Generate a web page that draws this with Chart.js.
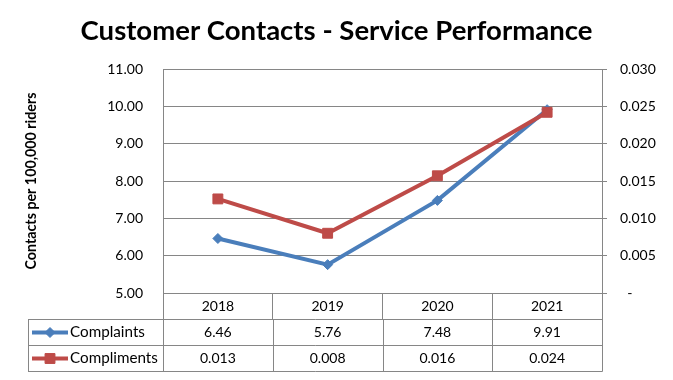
<!DOCTYPE html>
<html><head><meta charset="utf-8">
<script src="https://cdn.jsdelivr.net/npm/chart.js@4/dist/chart.umd.min.js"></script>
<style>html,body{margin:0;padding:0;background:#fff;}</style>
</head><body>
<canvas id="c" width="673" height="380" style="width:673px;height:380px;display:block"></canvas>
<script>
// ---- data ----
const categories = ['2018', '2019', '2020', '2021'];
const complaints = [6.46, 5.76, 7.48, 9.91];
const compliments = [0.0126, 0.0080, 0.0157, 0.0242];
const seriesNames = ['Complaints', 'Compliments'];
const leftTickMin = 5, leftTickMax = 11, leftTickStep = 1;
const rightTickMin = 0, rightTickMax = 0.03, rightTickStep = 0.005;
const titleText = 'Customer Contacts - Service Performance';
const yTitleText = 'Contacts per 100,000 riders';

// ---- style ----
const FONT = 'Lato';
const GRID = '#868686';
const BLUE = '#4A7EBB';
const RED = '#BE4B48';

function fitSize(text, weight, targetW, base) {
  const c = document.createElement('canvas').getContext('2d');
  c.font = weight + ' ' + base + 'px ' + FONT;
  return base * targetW / c.measureText(text).width;
}
const titleSize = fitSize(titleText, 'bold', 512, 27);
const yTitleSize = fitSize(yTitleText, 'bold', 177, 13);
const nameSize = fitSize(seriesNames[1], 'normal', 88, 14);

const tablePlugin = {
  id: 'dataTable',
  afterDraw(chart) {
    const ctx = chart.ctx;
    const xs = chart.scales.x;
    const area = chart.chartArea;
    const rowH = 26;
    const top = area.bottom + 26;
    const left = 28;
    const n = categories.length;
    const band = (xs.right - xs.left) / n;
    ctx.save();
    ctx.strokeStyle = GRID;
    ctx.lineWidth = 1;
    ctx.beginPath();
    for (let r = 0; r <= seriesNames.length; r++) {
      const y = Math.round(top + r * rowH) + 0.5;
      ctx.moveTo(left, y); ctx.lineTo(xs.right + 0.5, y);
    }
    const vx = [left];
    for (let k = 0; k <= n; k++) vx.push(xs.left + k * band);
    vx.forEach(x => {
      const px = Math.round(x) + 0.5;
      ctx.moveTo(px, top); ctx.lineTo(px, top + seriesNames.length * rowH + 0.5);
    });
    ctx.stroke();

    const rows = [
      {name: seriesNames[0], vals: complaints, dec: 2, color: BLUE, style: 'rectRot', radius: 5},
      {name: seriesNames[1], vals: compliments, dec: 3, color: RED, style: 'rect', radius: 7}
    ];
    ctx.textBaseline = 'middle';
    rows.forEach((row, r) => {
      const cy = top + r * rowH + rowH / 2 + 0.5;
      ctx.strokeStyle = row.color;
      ctx.lineWidth = 4;
      ctx.beginPath(); ctx.moveTo(32, cy); ctx.lineTo(68, cy); ctx.stroke();
      ctx.fillStyle = row.color; ctx.lineWidth = 1;
      Chart.helpers.drawPoint(ctx, {pointStyle: row.style, radius: row.radius, borderWidth: 1, rotation: 0}, 50, cy);
      ctx.fillStyle = '#000';
      ctx.textAlign = 'left';
      ctx.font = nameSize + 'px ' + FONT;
      ctx.fillText(row.name, 70, cy);
      ctx.textAlign = 'center';
      ctx.font = '14px ' + FONT;
      row.vals.forEach((v, i) => {
        ctx.fillText(v.toFixed(row.dec), xs.getPixelForValue(i), cy);
      });
    });
    ctx.restore();
  }
};

new Chart(document.getElementById('c'), {
  type: 'line',
  data: {
    labels: categories,
    datasets: [
      {
        label: seriesNames[0], data: complaints, yAxisID: 'y', order: 1,
        borderColor: BLUE, backgroundColor: BLUE, borderWidth: 4,
        pointStyle: 'rectRot', pointRadius: 5, pointBorderWidth: 1,
        pointBackgroundColor: BLUE, pointBorderColor: BLUE, tension: 0
      },
      {
        label: seriesNames[1], data: compliments, yAxisID: 'y1', order: 0,
        borderColor: RED, backgroundColor: RED, borderWidth: 4,
        pointStyle: 'rect', pointRadius: 7, pointBorderWidth: 1,
        pointBackgroundColor: RED, pointBorderColor: RED, tension: 0
      }
    ]
  },
  options: {
    responsive: false, animation: false, devicePixelRatio: 1,
    layout: {padding: {left: 0, right: 0, top: 0, bottom: 61}},
    plugins: {
      legend: {display: false}, tooltip: {enabled: false},
      title: {
        display: true, text: titleText, color: '#000',
        font: {family: FONT, size: titleSize, weight: 'bold'},
        padding: {top: 15, bottom: 69 - 15 - titleSize * 1.2}
      }
    },
    scales: {
      x: {
        type: 'category', offset: true,
        grid: {offset: true, drawOnChartArea: false, drawTicks: true, tickLength: 26, color: GRID},
        border: {display: true, color: GRID},
        ticks: {font: {family: FONT, size: 14}, color: '#000', padding: -21.4, maxRotation: 0},
        afterFit(s) { s.height = 26; }
      },
      y: {
        position: 'left', min: leftTickMin, max: leftTickMax,
        ticks: {stepSize: leftTickStep, font: {family: FONT, size: 14}, color: '#000', padding: 20,
                callback: v => Number(v).toFixed(2)},
        grid: {color: GRID, drawTicks: false},
        border: {display: true, color: GRID},
        title: {display: true, text: yTitleText, color: '#000',
                font: {family: FONT, size: yTitleSize, weight: 'bold'},
                padding: {top: 31.5 - yTitleSize * 0.6, bottom: 0}},
        afterFit(s) { s.width = 163; }
      },
      y1: {
        position: 'right', min: rightTickMin, max: rightTickMax,
        ticks: {stepSize: rightTickStep, font: {family: FONT, size: 14}, color: '#000', padding: 13,
                callback: v => Math.abs(v) < 1e-9 ? '  -' : Number(v).toFixed(3)},
        grid: {drawOnChartArea: false, drawTicks: true, tickLength: 5, color: GRID},
        border: {display: true, color: GRID},
        afterFit(s) { s.width = 71; }
      }
    }
  },
  plugins: [tablePlugin]
});
</script>
</body></html>
